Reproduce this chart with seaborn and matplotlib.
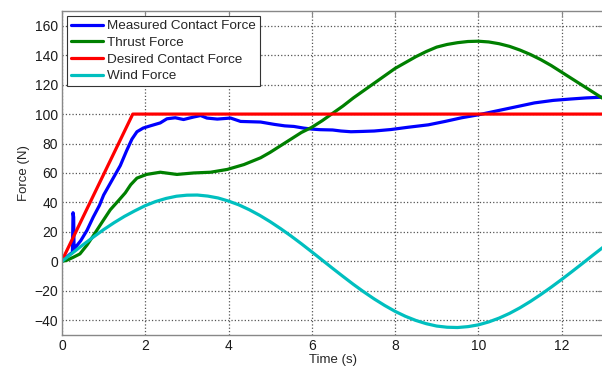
import numpy as np
import pandas as pd
import matplotlib
matplotlib.use("Agg")
import matplotlib.pyplot as plt
import seaborn as sns

# values (time in s, force in N)
t_medida = [0.0, 0.1, 0.2, 0.25, 0.265, 0.28, 0.29, 0.31, 0.45, 0.6, 0.75, 0.9, 1.0, 1.2,
            1.4, 1.55, 1.68, 1.8, 1.95, 2.12, 2.36, 2.52, 2.72, 2.92, 3.16, 3.33, 3.48, 3.73,
            4.05, 4.29, 4.77, 5.1, 5.35, 5.57, 5.8, 6.0, 6.2, 6.5, 6.7, 6.94, 7.2, 7.5, 7.9,
            8.3, 8.8, 9.2, 9.6, 10.0, 10.5, 11.0, 11.35, 11.8, 12.2, 12.6, 13.0]
f_medida = [0.0, 2.5, 5.0, 6.0, 33.0, 30.0, 7.0, 9.0, 14.0, 21.0, 30.0, 38.0, 45.0, 55.0,
            65.0, 75.0, 83.0, 88.0, 90.5, 92.0, 94.0, 96.8, 97.5, 96.3, 98.0, 99.0, 97.3, 96.6,
            97.3, 95.0, 94.6, 93.0, 92.0, 91.6, 90.5, 89.8, 89.4, 89.2, 88.5, 88.0, 88.2, 88.5, 89.5,
            91.0, 92.7, 95.0, 97.5, 99.5, 102.5, 105.5, 107.6, 109.3, 110.2, 111.0, 111.5]

t_empuje = [0.0, 0.1, 0.27, 0.43, 0.6, 0.75, 0.95, 1.16, 1.35, 1.52, 1.65, 1.8, 2.03, 2.36,
            2.76, 3.16, 3.57, 3.97, 4.37, 4.77, 5.0, 5.25, 5.5, 5.75, 6.0, 6.25, 6.5, 6.75,
            7.0, 7.25, 7.5, 7.75, 8.0, 8.25, 8.5, 8.75, 9.0, 9.25, 9.5, 9.75, 10.0, 10.25,
            10.5, 10.75, 11.0, 11.25, 11.5, 11.75, 12.0, 12.25, 12.5, 12.75, 13.0]
f_empuje = [0.0, 0.5, 2.7, 5.0, 11.0, 17.3, 26.0, 35.0, 41.0, 46.5, 52.0, 56.5, 59.0, 60.5,
            59.0, 60.0, 60.5, 62.4, 65.7, 70.3, 74.0, 78.5, 83.0, 87.5, 91.0, 95.5, 100.5, 105.5,
            111.0, 116.0, 121.0, 126.0, 131.0, 135.0, 139.0, 142.5, 145.5, 147.3, 148.5, 149.3, 149.5, 149.0,
            147.8, 146.0, 143.5, 140.5, 137.0, 133.0, 128.5, 124.0, 119.5, 115.0, 110.5]

t_deseada = [0.0, 1.7, 13.0]
f_deseada = [0.5, 100.0, 100.0]

t_viento = [0.0, 0.25, 0.5, 0.75, 1.0, 1.25, 1.5, 1.75, 2.0, 2.25, 2.5, 2.75, 3.0, 3.25,
            3.5, 3.75, 4.0, 4.25, 4.5, 4.75, 5.0, 5.25, 5.5, 5.75, 6.0, 6.25, 6.5, 6.75,
            7.0, 7.25, 7.5, 7.75, 8.0, 8.25, 8.5, 8.75, 9.0, 9.25, 9.5, 9.75, 10.0, 10.25,
            10.5, 10.75, 11.0, 11.25, 11.5, 11.75, 12.0, 12.25, 12.5, 12.75, 13.0]
f_viento = [0.0, 5.6, 11.1, 16.4, 21.5, 26.2, 30.5, 34.3, 37.8, 40.6, 42.7, 44.2, 44.9, 45.0,
            44.3, 43.0, 40.9, 38.3, 35.0, 31.2, 26.9, 22.2, 17.2, 11.9, 6.4, 0.8, -4.8, -10.3,
            -15.7, -20.8, -25.6, -30.0, -34.0, -37.4, -40.2, -42.4, -44.0, -44.8, -45.0, -44.4, -43.2, -41.2,
            -38.6, -35.4, -31.6, -27.3, -22.6, -17.6, -12.4, -7.0, -1.5, 4.1, 9.6]

etiquetas = ["Measured Contact Force", "Thrust Force", "Desired Contact Force", "Wind Force"]
colores = ["#0000ff", "#008000", "#ff0000", "#00bfbf"]

sns.set_style("white")
plt.rcParams['font.family'] = ['Liberation Sans', 'DejaVu Sans']

fig = plt.figure(figsize=(6.02, 3.68), dpi=100)
ax = fig.add_axes([0.103, 0.09, 0.899, 0.88])

series = [(t_medida, f_medida), (t_empuje, f_empuje), (t_deseada, f_deseada), (t_viento, f_viento)]
for (t, f), lab, col in zip(series, etiquetas, colores):
    sns.lineplot(x=t, y=f, ax=ax, color=col, linewidth=2.3, label=lab,
                 estimator=None, sort=False)

ax.set_xlim(0, 13)
ax.set_ylim(-50, 170)
ax.set_xticks([0, 2, 4, 6, 8, 10, 12])
ax.set_yticks([-40, -20, 0, 20, 40, 60, 80, 100, 120, 140, 160])
ax.grid(True, linestyle=':', color='#555555', linewidth=0.9)
ax.tick_params(direction='in', top=True, right=True, length=4, labelsize=10,
               colors='#888888', labelcolor='#1a1a1a', pad=3)
for s in ax.spines.values():
    s.set_color('#888888')
    s.set_linewidth(1.0)

ax.set_xlabel('Time (s)', fontsize=9.5, labelpad=1)
ax.set_ylabel('Force (N)', fontsize=9.5, labelpad=3)

leg = ax.legend(loc='upper left', fontsize=9.7, fancybox=False, edgecolor='#333333',
                framealpha=1, labelspacing=0.32, handlelength=2.4, handletextpad=0.3,
                borderpad=0.3, borderaxespad=0.35)
leg.get_frame().set_linewidth(0.8)

fig.savefig('out.png', dpi=100)
